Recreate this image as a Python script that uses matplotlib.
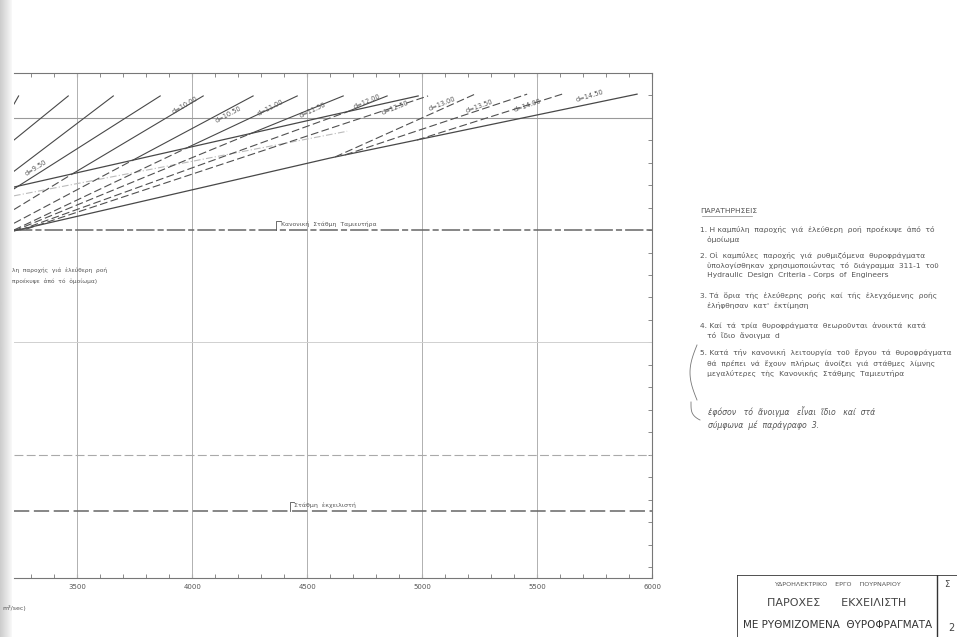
import numpy as np
import matplotlib.pyplot as plt
from matplotlib.lines import Line2D

# discharge Q (m3/sec) against reservoir level (m)
xticks = [3500, 4000, 4500, 5000, 5500, 6000]
lvl_normal = 120.0      # Κανονική Στάθμη Ταμιευτήρα
lvl_crest = 107.5       # Στάθμη εκχειλιστή

# limits of free / controlled flow
upper_q = [3225, 4600, 4983]
upper_h = [121.91, 125.09, 125.96]
lower_q = [3225, 4600, 5935]
lower_h = [119.96, 123.20, 126.04]
# free-flow curve (faint dash-dot)
free_q = [3225, 4674]
free_h = [121.52, 124.39]

# gate-opening curves: solid part (controlled) and dashed part (transition)
gate_d = ["8.00", "8.50", "9.00", "9.50", "10.00", "10.50", "11.00",
          "11.50", "12.00", "12.50", "13.00", "13.50", "14.00"]
solid_q = [[3225, 3245], [3225, 3461], [3225, 3657], [3225, 3861],
           [3483, 4048], [3739, 4265], [3987, 4457], [4248, 4657],
           [4665, 4848], [], [], [], []]
solid_h = [[125.6, 125.96], [124.0, 125.96], [122.61, 125.96], [121.83, 125.96],
           [122.52, 125.96], [123.09, 125.96], [123.70, 125.96], [124.26, 125.96],
           [125.22, 125.96], [], [], [], []]
dash_q = [[], [], [], [],
          [3225, 3483], [3225, 3739], [3225, 3987], [3225, 4248],
          [3252, 4665], [3278, 5026], [4622, 5230], [4665, 5457], [4978, 5609]]
dash_h = [[], [], [], [],
          [120.91, 122.52], [120.30, 123.09], [120.0, 123.70], [119.96, 124.26],
          [120.0, 125.22], [120.04, 125.96], [123.25, 126.04], [123.34, 126.04],
          [124.0, 126.04]]

# where the d labels sit on the sheet
lab_text = ["d=9.50", "d=10.00", "d=10.50", "d=11.00", "d=11.50", "d=12.00",
            "d=12.50", "d=13.00", "d=13.50", "d=14.00", "d=14.50"]
lab_q = [3322, 3970, 4157, 4339, 4526, 4761, 4883, 5087, 5248, 5457, 5731]
lab_h = [122.75, 125.55, 125.15, 125.45, 125.35, 125.7, 125.45, 125.62, 125.52, 125.55, 125.95]
lab_rot = [32, 30, 28, 27, 25, 23, 22, 22, 20, 19, 17]

gray = "#555555"
ink = "#484848"
fig = plt.figure(figsize=(9.57, 6.37), dpi=100)
ax = fig.add_axes([14/957, 1-578/637, (652-14)/957, (578-73)/637])
ax.set_xlim(3225, 6000)
ax.set_ylim(104.53, 126.98)

for v in xticks[:-1]:
    ax.axvline(v, color="#b0b0b0", lw=0.7)
ax.axhline(125, color="#999999", lw=0.8)
ax.axhline(115, color="#d0d0d0", lw=0.7)
ax.axhline(110, color="#aaaaaa", lw=0.8, ls=(0, (8, 3)))
ax.axhline(lvl_normal, color="#666666", lw=1.1, ls=(0, (12, 2, 4, 2)))
ax.axhline(lvl_crest, color="#666666", lw=1.1, ls=(0, (10, 3)))

ax.plot(upper_q, upper_h, color=ink, lw=0.9)
ax.plot(lower_q, lower_h, color=ink, lw=0.9)
ax.plot(free_q, free_h, color="#bbbbbb", lw=0.8, ls=(0, (6, 2, 1, 2)))
for i in range(len(gate_d)):
    if solid_q[i]:
        ax.plot(solid_q[i], solid_h[i], color=ink, lw=0.8)
    if dash_q[i]:
        ax.plot(dash_q[i], dash_h[i], color="#505050", lw=0.8, ls=(0, (7, 3)))

for t, q, h, r in zip(lab_text, lab_q, lab_h, lab_rot):
    ax.text(q, h, t, fontsize=4.8, color=gray, rotation=r, ha="center", va="center",
            rotation_mode="anchor")

ax.set_xticks(xticks)
ax.set_xticklabels([str(v) for v in xticks], fontsize=5, color=gray)
ax.set_xticks(np.arange(3300, 6000, 100), minor=True)
ax.set_yticks([])
ax.set_yticks(np.arange(105, 127, 1), minor=True)
ax.tick_params(axis="x", which="both", direction="in", top=True, length=3,
               color="#777777", pad=4)
ax.tick_params(axis="y", which="minor", direction="in", right=True, left=False,
               length=3, color="#777777")
for s in ax.spines.values():
    s.set_color("#777777")
    s.set_linewidth(0.8)
ax.spines["left"].set_visible(False)

ax.text(4385, lvl_normal + 0.2, "Κανονική  Στάθμη  Ταμιευτήρα", fontsize=4.4, color=gray)
ax.plot([4365, 4365, 4385], [lvl_normal, lvl_normal + 0.4, lvl_normal + 0.4], color=gray, lw=0.6)
ax.text(4445, lvl_crest + 0.2, "Στάθμη  ἐκχειλιστή", fontsize=4.5, color=gray)
ax.plot([4425, 4425, 4445], [lvl_crest, lvl_crest + 0.4, lvl_crest + 0.4], color=gray, lw=0.6)

fig.text(12/957, 1-272/637, "λη  παροχής  γιά  ἐλεύθερη  ροή", fontsize=4.2, color=gray)
fig.text(12/957, 1-283/637, "προέκυψε  ἀπό  τό  ὁμοίωμα)", fontsize=4.2, color=gray)
fig.text(2/957, 1-610/637, "m³/sec)", fontsize=4.5, color=gray)

notes = [
    (213, "ΠΑΡΑΤΗΡΗΣΕΙΣ"),
    (232, "1. Η καμπύλη  παροχής  γιά  ἐλεύθερη  ροή  προέκυψε  ἀπό  τό"),
    (242, "   ὁμοίωμα"),
    (258, "2. Οἱ  καμπύλες  παροχής  γιά  ρυθμιζόμενα  θυροφράγματα"),
    (268, "   ὑπολογίσθηκαν  χρησιμοποιώντας  τό  διάγραμμα  311-1  τοῦ"),
    (277, "   Hydraulic  Design  Criteria - Corps  of  Engineers"),
    (298, "3. Τά  ὅρια  τῆς  ἐλεύθερης  ροῆς  καί  τῆς  ἐλεγχόμενης  ροῆς"),
    (308, "   ἐλήφθησαν  κατ'  ἐκτίμηση"),
    (328, "4. Καί  τά  τρία  θυροφράγματα  θεωροῦνται  ἀνοικτά  κατά"),
    (338, "   τό  ἴδιο  ἄνοιγμα  d"),
    (355, "5. Κατά  τήν  κανονική  λειτουργία  τοῦ  ἔργου  τά  θυροφράγματα"),
    (366, "   θά  πρέπει  νά  ἔχουν  πλήρως  ἀνοίξει  γιά  στάθμες  λίμνης"),
    (376, "   μεγαλύτερες  τῆς  Κανονικῆς  Στάθμης  Ταμιευτήρα"),
]
for py, t in notes:
    fig.text(700/957, 1-py/637, t, fontsize=5.4, color=gray)
fig.add_artist(Line2D([702/957, 752/957], [1-216/637, 1-216/637],
                      color="#888888", lw=0.5))

# handwritten remark and its braces
fig.text(708/957, 1-415/637, "ἐφόσον   τό  ἄνοιγμα   εἶναι  ἴδιο   καί  στά", fontsize=5.6,
         color="#555555", style="italic")
fig.text(708/957, 1-428/637, "σύμφωνα  μέ  παράγραφο  3.", fontsize=5.6,
         color="#555555", style="italic")
t = np.linspace(0, 1, 30)
fig.add_artist(Line2D((697 - 7*np.sin(np.pi*t))/957, 1-(345 + 55*t)/637,
                      color="#777777", lw=0.6))
fig.add_artist(Line2D((691 + 9*t**2)/957, 1-(402 + 18*np.sqrt(t))/637,
                      color="#777777", lw=0.6))

# title block
tb = fig.add_axes([737/957, 0, 1-737/957, 62/637])
tb.set_xlim(0, 1)
tb.set_ylim(0, 1)
tb.axis("off")
tb.plot([0, 0, 1], [0, 1, 1], color="#333333", lw=1.2)
tb.plot([0.91, 0.91], [0, 1], color="#333333", lw=1.0)
tb.text(0.455, 0.83, "ΥΔΡΟΗΛΕΚΤΡΙΚΟ    ΕΡΓΟ    ΠΟΥΡΝΑΡΙΟΥ", fontsize=4.6, color=gray, ha="center")
tb.text(0.455, 0.5, "ΠΑΡΟΧΕΣ      ΕΚΧΕΙΛΙΣΤΗ", fontsize=8, color="#444444", ha="center")
tb.text(0.455, 0.15, "ΜΕ ΡΥΘΜΙΖΟΜΕΝΑ  ΘΥΡΟΦΡΑΓΜΑΤΑ", fontsize=7.5, color="#333333", ha="center")
tb.text(0.94, 0.8, "Σ", fontsize=6, color="#444444")
tb.text(0.96, 0.1, "2", fontsize=7, color="#444444")

# scanner shadow on the left edge
sh = fig.add_axes([0, 0, 12/957, 1])
sh.imshow(np.linspace(0.8, 0.97, 20)[None, :], cmap="gray", vmin=0, vmax=1, aspect="auto")
sh.axis("off")

fig.savefig("out.png", dpi=100)
